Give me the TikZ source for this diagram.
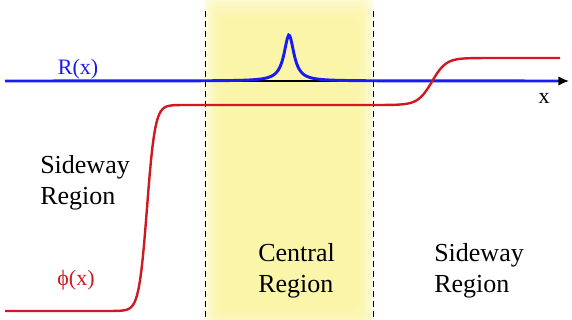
\documentclass[tikz,border=0pt]{standalone}
\usepackage{fontspec}
\setmainfont{Liberation Serif}
\usetikzlibrary{arrows.meta}
\definecolor{band}{RGB}{250,244,162}
\definecolor{rfield}{HTML}{1A1AF5}
\definecolor{phifield}{HTML}{D01820}

\begin{document}
\begin{tikzpicture}[x=0.75pt,y=-0.75pt,
    regiontext/.style={font=\fontsize{19.5}{23.25}\selectfont,align=left,anchor=base west,inner sep=0pt},
    fieldlabel/.style={font=\fontsize{16.5}{20}\selectfont,inner sep=0pt},
    border/.style={dash pattern=on 4.5pt off 3pt,line width=0.75pt}]
  \useasboundingbox (0,0) rectangle (572,320);

  % Central band (soft edges)
  \foreach \i in {0,...,11}
    \fill[band,opacity=0.2,rounded corners=6pt] (204+1.8*\i,-6+2.6*\i) rectangle (374-1.8*\i,330-2*\i);

  % Region borders
  \draw[border] (205,11) -- (205,320);
  \draw[border] (373,11) -- (373,320);

  % Axis
  \coordinate (xstart) at (5,81);
  \coordinate (xend) at (569,81);
  \draw[line width=1.1pt,-{Latex[length=8pt,width=7pt]}] (xstart) -- (xend);
  \node[fieldlabel] (xlabel) at (544,98) {x};

  % Soliton R(x)
  \draw[rfield,line width=2.2pt,samples=500,domain=5:558]
    plot (\x,{81-46/(1+((\x-289)/6)^2)});
  \node[fieldlabel,text=rfield] (rlabel) at (78,69) {R(x)};

  % Kink phi(x)
  \draw[phifield,line width=1.8pt,samples=400,domain=5:560]
    plot (\x,{208-103*tanh(max(-5,min(5,(\x-147)/8)))-23.5*(1+tanh(max(-5,min(5,(\x-432)/14))))});
  \node[fieldlabel,text=phifield] (philabel) at (76,280) {ϕ(x)};

  % Region labels
  \node[regiontext] (leftregion) at (40,205) {Sideway\\Region};
  \node[regiontext] (centralregion) at (258,293) {Central\\Region};
  \node[regiontext] (rightregion) at (434,293) {Sideway\\Region};
\end{tikzpicture}
\end{document}
